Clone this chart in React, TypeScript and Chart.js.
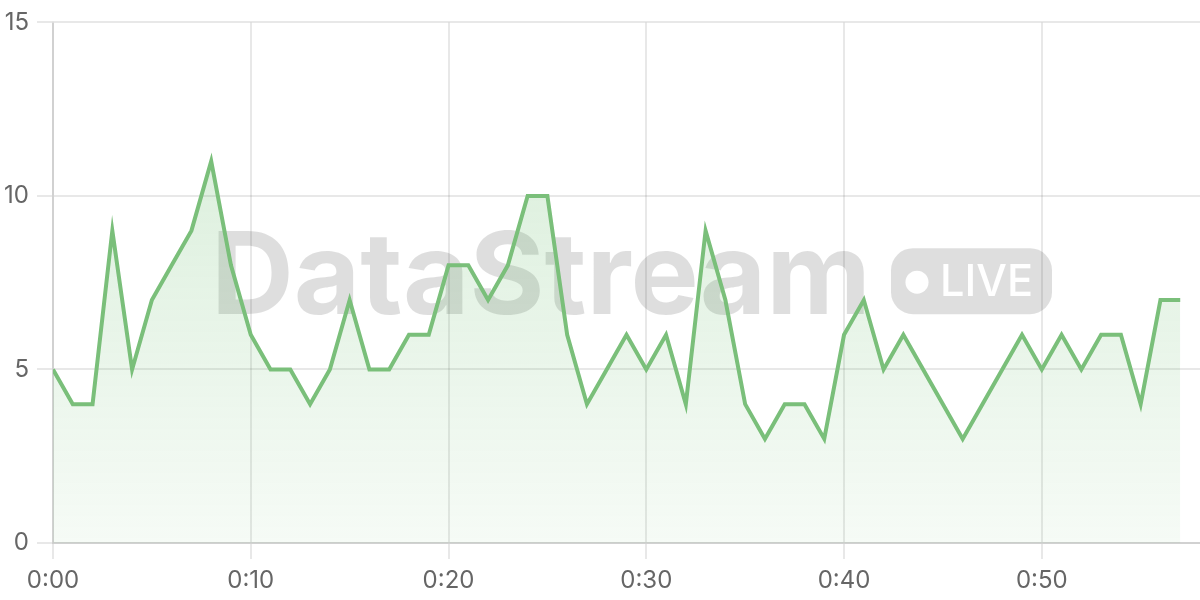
import React, { useEffect, useRef } from 'react';
import { Chart, registerables } from 'chart.js';

Chart.register(...registerables);

// minutes since start (x) and values (y)
const minutes = [
  0, 1, 2, 3, 4, 5, 6, 7, 8, 9, 10, 11, 12, 13, 14, 15, 16, 17, 18, 19,
  20, 21, 22, 23, 24, 25, 26, 27, 28, 29, 30, 31, 32, 33, 34, 35, 36, 37, 38, 39,
  40, 41, 42, 43, 44, 45, 46, 47, 48, 49, 50, 51, 52, 53, 54, 55, 56, 57,
];
const values = [
  5, 4, 4, 9, 5, 7, 8, 9, 11, 8, 6, 5, 5, 4, 5, 7, 5, 5, 6, 6,
  8, 8, 7, 8, 10, 10, 6, 4, 5, 6, 5, 6, 4, 9, 7, 4, 3, 4, 4, 3,
  6, 7, 5, 6, 5, 4, 3, 4, 5, 6, 5, 6, 5, 6, 6, 4, 7, 7,
];
const xTickValues = [0, 10, 20, 30, 40, 50];
const xTickLabels = ['0:00', '0:10', '0:20', '0:30', '0:40', '0:50'];
const yTickValues = [0, 5, 10, 15];
const xRange = [0, 58];
const yRange = [0, 15];
const watermarkText = 'DataStream';
const badgeText = 'LIVE';

const FONT = "Inter, 'Noto Sans', sans-serif";

const watermarkPlugin = {
  id: 'watermark',
  beforeDatasetsDraw(chart: any) {
    const { ctx, chartArea } = chart;
    const cx = (chartArea.left + chartArea.right) / 2;
    const cy = (chartArea.top + chartArea.bottom) / 2;
    ctx.save();
    const grey = 'rgba(0,0,0,0.13)';
    // main word
    ctx.font = `bold 114px ${FONT}`;
    ctx.fillStyle = grey;
    ctx.textAlign = 'left';
    ctx.textBaseline = 'alphabetic';
    const tw = ctx.measureText(watermarkText).width;
    const targetW = 660;
    const textLeft = cx - 415.5;
    const baseline = cy + 31.5;
    ctx.save();
    ctx.translate(textLeft, baseline);
    ctx.scale(targetW / tw, 1);
    ctx.fillText(watermarkText, 0, 0);
    ctx.restore();
    // badge
    const bx = cx + 264.5;
    const by = cy - 34.5;
    const bw = 161;
    const bh = 66;
    const r = 22;
    ctx.beginPath();
    ctx.moveTo(bx + r, by);
    ctx.lineTo(bx + bw - r, by);
    ctx.arcTo(bx + bw, by, bx + bw, by + r, r);
    ctx.lineTo(bx + bw, by + bh - r);
    ctx.arcTo(bx + bw, by + bh, bx + bw - r, by + bh, r);
    ctx.lineTo(bx + r, by + bh);
    ctx.arcTo(bx, by + bh, bx, by + bh - r, r);
    ctx.lineTo(bx, by + r);
    ctx.arcTo(bx, by, bx + r, by, r);
    ctx.closePath();
    ctx.fillStyle = grey;
    ctx.fill();
    // dot
    ctx.fillStyle = '#ffffff';
    ctx.beginPath();
    ctx.arc(bx + 26, by + 34, 11.5, 0, Math.PI * 2);
    ctx.fill();
    // LIVE
    ctx.font = `500 44px ${FONT}`;
    const lw = ctx.measureText(badgeText).width;
    ctx.save();
    ctx.translate(bx + 49, by + 48);
    ctx.scale(93 / lw, 1);
    ctx.fillText(badgeText, 0, 0);
    ctx.restore();
    ctx.restore();
  },
};

export default function App() {
  const ref = useRef<HTMLCanvasElement>(null);

  useEffect(() => {
    document.body.style.margin = '0';
    const canvas = ref.current;
    if (!canvas) return;
    const gridColor = 'rgba(0,0,0,0.09)';
    const chart = new Chart(canvas, {
      type: 'line',
      data: {
        datasets: [
          {
            data: minutes.map((m, i) => ({ x: m, y: values[i] })),
            borderColor: 'rgb(122,191,122)',
            borderWidth: 4,
            pointRadius: 0,
            tension: 0,
            fill: 'origin',
            backgroundColor: (c: any) => {
              const area = c.chart.chartArea;
              if (!area) return 'rgba(76,175,80,0.15)';
              const g = c.chart.ctx.createLinearGradient(0, area.top, 0, area.bottom);
              g.addColorStop(0, 'rgba(76,175,80,0.24)');
              g.addColorStop(1, 'rgba(76,175,80,0.05)');
              return g;
            },
          },
        ],
      },
      options: {
        animation: false,
        responsive: false,
        devicePixelRatio: 1,
        layout: { padding: { top: 20, right: 0, left: 0, bottom: 0 } },
        plugins: {
          legend: { display: false },
          tooltip: { enabled: false },
        },
        scales: {
          x: {
            type: 'linear',
            min: xRange[0],
            max: xRange[1],
            afterFit: (s: any) => {
              s.height = 57;
            },
            afterBuildTicks: (s: any) => {
              s.ticks = xTickValues.map((v) => ({ value: v }));
            },
            ticks: {
              includeBounds: false,
              autoSkip: false,
              maxRotation: 0,
              padding: 7,
              color: '#666',
              font: { family: FONT, size: 24 },
              callback: (v: any) => {
                const idx = xTickValues.indexOf(Number(v));
                return idx >= 0 ? xTickLabels[idx] : null;
              },
            },
            grid: { color: gridColor, lineWidth: 2, tickLength: 16 },
            border: { color: 'rgba(0,0,0,0.1)', width: 2 },
          },
          y: {
            min: yRange[0],
            max: yRange[1],
            afterFit: (s: any) => {
              s.width = 53;
            },
            afterBuildTicks: (s: any) => {
              s.ticks = yTickValues.map((v) => ({ value: v }));
            },
            ticks: {
              padding: 8,
              color: '#666',
              font: { family: FONT, size: 24 },
            },
            grid: { color: gridColor, lineWidth: 2, tickLength: 16 },
            border: { color: 'rgba(0,0,0,0.1)', width: 2 },
          },
        },
      },
      plugins: [watermarkPlugin],
    });
    return () => chart.destroy();
  }, []);

  return (
    <div style={{ width: 1200, height: 600 }}>
      <canvas ref={ref} width={1200} height={600} style={{ display: 'block' }} />
    </div>
  );
}
